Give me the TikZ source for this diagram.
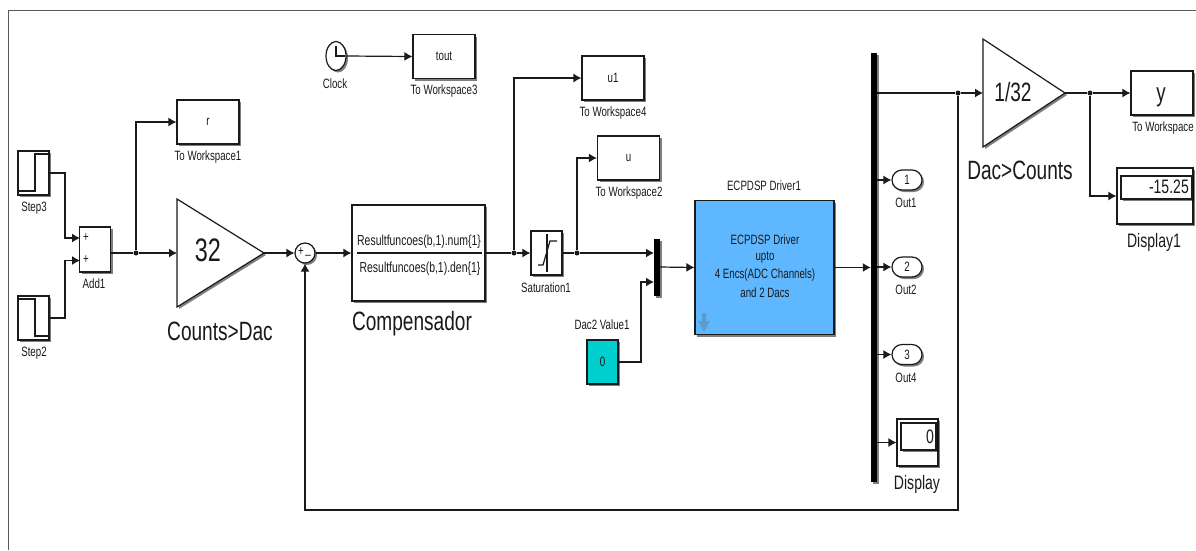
\documentclass[tikz,border=0pt]{standalone}
\usepackage{fontspec}
\setmainfont[FakeStretch=0.72]{Liberation Sans}
\usepackage{tikz}
\usetikzlibrary{arrows.meta,shadows,shapes.misc,shapes.geometric}
\definecolor{wirecol}{HTML}{1A1A1A}
\definecolor{driverblue}{HTML}{5FB8FF}
\definecolor{constcyan}{HTML}{00CFCF}
\definecolor{iconblue}{HTML}{5C9CCB}
\tikzset{
    blockshadow/.style={drop shadow={shadow xshift=2pt,shadow yshift=-2pt,opacity=0.5,fill=black}},
    block/.style={draw=wirecol,line width=1.2pt,fill=white,blockshadow,inner sep=0pt,text=wirecol},
    workspace/.style={block,minimum width=62pt,minimum height=44pt,font=\fontsize{13.5}{15}\selectfont},
    srcblock/.style={block,minimum width=31pt,minimum height=44pt},
    busbar/.style={fill=black,inner sep=0pt,blockshadow},
    wire/.style={draw=wirecol,line width=1.2pt,-{Latex[length=8pt,width=9pt]}},
    plainwire/.style={draw=wirecol,line width=1.2pt},
    dot/.style={circle,fill=wirecol,inner sep=0pt,minimum size=5pt},
    smalltxt/.style={inner sep=0pt,text=wirecol,font=\fontsize{13.5}{15}\selectfont},
    bigtxt/.style={inner sep=0pt,text=wirecol,font=\fontsize{26.5}{28}\selectfont},
    midtxt/.style={inner sep=0pt,text=wirecol,font=\fontsize{19.5}{21}\selectfont},
    outport/.style={block,rounded rectangle,minimum width=30pt,minimum height=20pt,font=\fontsize{13.5}{15}\selectfont},
    ghost/.style={inner sep=0pt,outer sep=0pt}
}
\begin{document}
\begin{tikzpicture}[x=1pt,y=-1pt]
    \useasboundingbox (0,0) rectangle (1196,550);
    \draw[draw=black!65,line width=1.4pt] (8.5,550) -- (8.5,10.5) -- (1196,10.5); % Outer frame
    % Sources on the left
    \node[srcblock] (step3) at (33.5,173) {};
    \node[srcblock] (step2) at (33.5,318) {};
    \draw[plainwire] (18,191) -- (35,191) -- (35,154) -- (49,154);
    \draw[plainwire] (18,299) -- (35,299) -- (35,336) -- (49,336);
    \node[smalltxt] at (34,208) {Step3};
    \node[smalltxt] at (34,353) {Step2};
    \node[block,minimum width=31pt,minimum height=45pt] (add) at (95,249.5) {};
    \coordinate (addin1) at (80,238);
    \coordinate (addin2) at (80,260.5);
    \coordinate (addout) at (110,253);
    \node[smalltxt] at (86,238) {+};
    \node[smalltxt] at (86,260) {+};
    \node[smalltxt] at (94,284) {Add1};
    \draw[wire] (step3.east) -| (65,238) -- (addin1);
    \draw[wire] (step2.east) -| (65,260.5) -- (addin2);
    % Reference gain
    \node[workspace] (wsr) at (208,122) {r};
    \node[smalltxt] at (208,157.5) {To Workspace1};
    \node[ghost,minimum width=87pt,minimum height=108pt] (gainin) at (220.5,253) {};
    \draw[block] (gainin.north west) -- (gainin.east) -- (gainin.south west) -- cycle;
    \node[inner sep=0pt,text=wirecol,font=\fontsize{32.5}{34}\selectfont] at (208,250) {32};
    \node[bigtxt] at (220,331) {Counts>Dac};
    \node[dot] (jref) at (136,253) {};
    \draw[plainwire] (addout) -- (jref);
    \draw[wire] (jref) -- (gainin.west);
    \draw[wire] (jref) |- (wsr.west);
    % Summing point and compensator
    \node[block,circle,minimum size=20pt] (sum) at (305,253) {};
    \node[smalltxt] at (301,251.5) {+};
    \node[smalltxt] at (308,255) {\_};
    \draw[wire] (gainin.east) -- (sum.west);
    \node[block,minimum width=133pt,minimum height=96pt] (comp) at (418.5,253) {};
    \draw[plainwire] (357,253) -- (482,253);
    \node[smalltxt,font=\fontsize{14.5}{16}\selectfont] at (419,242) {Resultfuncoes(b,1).num\{1\}};
    \node[smalltxt,font=\fontsize{14.5}{16}\selectfont] at (420,269) {Resultfuncoes(b,1).den\{1\}};
    \node[bigtxt] at (412,324) {Compensador};
    \draw[wire] (sum.east) -- (comp.west);
    % Clock
    \node[block,ellipse,minimum width=20pt,minimum height=29pt] (clock) at (336,56) {};
    \draw[plainwire] (336,46) -- (336,56) -- (345,56);
    \node[smalltxt] at (335,83.5) {Clock};
    \node[workspace] (wstout) at (444,56.5) {tout};
    \node[smalltxt] at (444,91.5) {To Workspace3};
    \draw[wire] (clock.east) -- (wstout.west);
    % Saturation and workspace outputs
    \node[srcblock] (sat) at (546.5,253) {};
    \draw[plainwire] (538,265) -- (543,265) -- (550,241) -- (557,241);
    \draw[plainwire] (547,234) -- (547,272);
    \node[smalltxt] at (546,288) {Saturation1};
    \node[dot] (jcomp) at (514,253) {};
    \draw[plainwire] (comp.east) -- (jcomp);
    \draw[wire] (jcomp) -- (sat.west);
    \node[workspace] (wsu1) at (613,78) {u1};
    \node[smalltxt] at (613,113.5) {To Workspace4};
    \draw[wire] (jcomp) |- (wsu1.west);
    \node[workspace] (wsu) at (628.5,158) {u};
    \node[smalltxt] at (629,193.5) {To Workspace2};
    \node[dot] (jsat) at (577,253) {};
    \draw[plainwire] (sat.east) -- (jsat);
    \draw[wire] (jsat) |- (wsu.west);
    % Mux and constant
    \node[busbar,minimum width=6pt,minimum height=57pt] (mux) at (657,267.5) {};
    \coordinate (muxin1) at (654,253);
    \coordinate (muxin2) at (654,282);
    \coordinate (muxout) at (660,267);
    \draw[wire] (jsat) -- (muxin1);
    \node[srcblock,fill=constcyan,font=\fontsize{13.5}{15}\selectfont] (dac) at (602.5,362) {0};
    \node[smalltxt] at (602,325) {Dac2 Value1};
    \draw[wire] (dac.east) -| (641,282) -- (muxin2);
    % Driver block
    \node[block,fill=driverblue,minimum width=139pt,minimum height=134pt] (driver) at (764.5,267.5) {};
    \node[smalltxt] at (764,186) {ECPDSP Driver1};
    \node[smalltxt] at (765,240) {ECPDSP Driver};
    \node[smalltxt] at (765,258) {upto};
    \node[smalltxt] at (765,275) {4 Encs(ADC Channels)};
    \node[smalltxt] at (765,293) {and 2 Dacs};
    \fill[iconblue] (702,313) -- (706,313) -- (706,321) -- (710,321) -- (704,332) -- (698,321) -- (702,321) -- cycle; % Icon on the block
    \draw[wire] (muxout) -- (driver.west);
    % Demux bar and its outputs
    \node[busbar,minimum width=6pt,minimum height=429pt] (demux) at (874,267.5) {};
    \draw[wire] (driver.east) -- (demux.west);
    \node[outport] (out1) at (907,180) {1};
    \node[outport] (out2) at (907,267) {2};
    \node[outport] (out4) at (907,354.5) {3};
    \node[smalltxt] at (906,202.5) {Out1};
    \node[smalltxt] at (906,289.5) {Out2};
    \node[smalltxt] at (906,377.5) {Out4};
    \draw[wire] (demux.east |- out1) -- (out1.west);
    \draw[wire] (demux.east |- out2) -- (out2.west);
    \draw[wire] (demux.east |- out4) -- (out4.west);
    \node[block,minimum width=41pt,minimum height=47pt] (display) at (917.5,442.5) {};
    \node[block,minimum width=35pt,minimum height=27pt,blockshadow/.style={}] at (918.5,436.5) {};
    \node[midtxt,anchor=east] at (934,437) {0};
    \node[midtxt] at (917,484.5) {Display};
    \draw[wire] (demux.east |- display) -- (display.west);
    % Output gain
    \node[ghost,minimum width=82pt,minimum height=108pt] (gainout) at (1024,93) {};
    \draw[block] (gainout.north west) -- (gainout.east) -- (gainout.south west) -- cycle;
    \node[bigtxt] at (1013,92) {1/32};
    \node[bigtxt] at (1020,170) {Dac>Counts};
    \node[dot] (jfb) at (958,93) {};
    \draw[plainwire] (demux.east |- jfb) -- (jfb);
    \draw[wire] (jfb) -- (gainout.west);
    \draw[wire] (jfb) -- (958,510) -| (sum.south); % Feedback line
    \node[workspace] (wsy) at (1162,93) {};
    \node[inner sep=0pt,text=wirecol,font=\fontsize{26}{28}\selectfont] at (1161,97) {y};
    \node[smalltxt] at (1163,128) {To Workspace};
    \node[dot] (jout) at (1090,93) {};
    \draw[plainwire] (gainout.east) -- (jout);
    \draw[wire] (jout) -- (wsy.west);
    \node[block,minimum width=76pt,minimum height=56pt] (display1) at (1155,196) {};
    \node[block,minimum width=71pt,minimum height=23pt,blockshadow/.style={}] at (1156.5,187.5) {};
    \node[midtxt,anchor=east] at (1189,187) {-15.25};
    \node[midtxt] at (1154,242.5) {Display1};
    \draw[wire] (jout) |- (display1.west);
\end{tikzpicture}
\end{document}
